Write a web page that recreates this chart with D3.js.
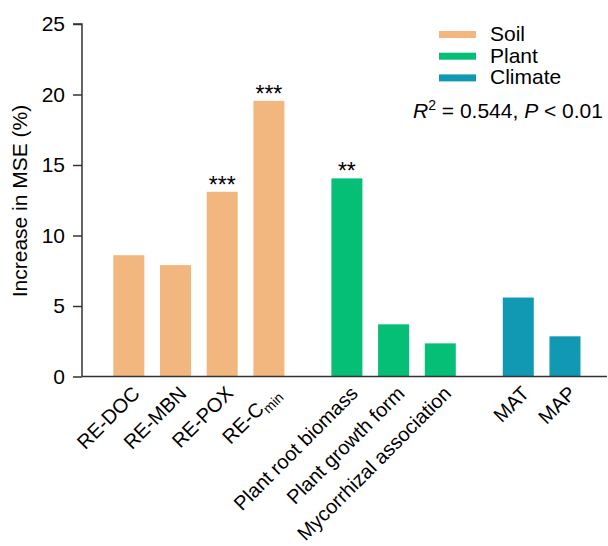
<!DOCTYPE html>
<html>
<head>
<meta charset="utf-8">
<script src="https://cdn.jsdelivr.net/npm/d3@7"></script>
<style>
  body { margin: 0; background: #fff; }
  text { font-family: Arial, "Liberation Sans", sans-serif; fill: #000; }
</style>
</head>
<body>
<script>
var width = 608, height = 546;

// data
var groups = ["Soil", "Plant", "Climate"];
var groupColors = ["#f1b77e", "#06bf76", "#1199b4"];
var labels = ["RE-DOC", "RE-MBN", "RE-POX", "RE-Cmin", "Plant root biomass", "Plant growth form", "Mycorrhizal association", "MAT", "MAP"];
var labelGroup = ["Soil", "Soil", "Soil", "Soil", "Plant", "Plant", "Plant", "Climate", "Climate"];
var values = [8.6, 7.9, 13.1, 19.55, 14.05, 3.7, 2.35, 5.6, 2.85];
var stars = ["", "", "***", "***", "**", "", "", "", ""];
var yTicks = [0, 5, 10, 15, 20, 25];

var fs = 21;

var svg = d3.select("body").append("svg")
    .attr("width", width)
    .attr("height", height);

// slot index with extra spacing between groups
var groupGap = 0.67;
var pos = labels.map(function(d, i) {
    return i + groups.indexOf(labelGroup[i]) * groupGap;
});

var x = d3.scaleLinear()
    .domain([0, 1])
    .range([128.8, 175.5]);
var barW = 31;

var y = d3.scaleLinear()
    .domain([0, 25])
    .range([376.5, 24]);

var color = d3.scaleOrdinal().domain(groups).range(groupColors);

// bars
svg.selectAll(".bar")
    .data(values)
    .enter().append("rect")
    .attr("class", "bar")
    .attr("x", function(d, i) { return x(pos[i]) - barW / 2; })
    .attr("y", function(d) { return y(d); })
    .attr("width", barW)
    .attr("height", function(d) { return y(0) - y(d); })
    .attr("fill", function(d, i) { return color(labelGroup[i]); });

// significance stars
svg.selectAll(".star")
    .data(values)
    .enter().append("text")
    .attr("x", function(d, i) { return x(pos[i]); })
    .attr("y", function(d) { return y(d) + 1; })
    .attr("text-anchor", "middle")
    .style("font-size", "23px")
    .text(function(d, i) { return stars[i]; });

// y axis
var axisY = d3.axisLeft(y).tickValues(yTicks).tickSize(9).tickPadding(8);
var gy = svg.append("g")
    .attr("transform", "translate(82,0)")
    .call(axisY);
gy.select(".domain").attr("stroke", "#333").attr("stroke-width", 1.5).attr("d", "M-9,24H0V376.5");
gy.selectAll(".tick line").attr("stroke", "#333").attr("stroke-width", 1.5);
gy.selectAll(".tick text").style("font-size", fs + "px").attr("fill", "#000");

// x axis line
svg.append("line")
    .attr("x1", 82).attr("x2", 607)
    .attr("y1", y(0)).attr("y2", y(0))
    .attr("stroke", "#333").attr("stroke-width", 1.5);

svg.append("text")
    .attr("transform", "translate(27,201) rotate(-90)")
    .attr("text-anchor", "middle")
    .style("font-size", fs + "px")
    .text("Increase in MSE (%)");

// x labels, top-right corner of the text pinned under each bar
svg.selectAll(".xlab")
    .data(labels)
    .enter().append("text")
    .attr("class", "xlab")
    .attr("transform", function(d, i) {
        return "translate(" + (x(pos[i]) + 2) + "," + (y(0) + 8) + ") rotate(-45)";
    })
    .attr("text-anchor", "end")
    .attr("dy", "0.72em")
    .style("font-size", "20px")
    .each(function(d) {
        var t = d3.select(this);
        if (d === "RE-Cmin") {
            t.append("tspan").text("RE-C");
            t.append("tspan").attr("dy", 5).style("font-size", "14px").text("min");
        } else {
            t.text(d);
        }
    });

// legend
var legend = svg.append("g");
groups.forEach(function(g, i) {
    legend.append("rect")
        .attr("x", 439).attr("y", 31 + i * 21.7)
        .attr("width", 37).attr("height", 7)
        .attr("fill", color(g));
    legend.append("text")
        .attr("x", 490).attr("y", 40.7 + i * 21.8)
        .style("font-size", fs + "px")
        .text(g);
});

var stat = svg.append("text")
    .attr("x", 413).attr("y", 118.3)
    .style("font-size", fs + "px");
stat.append("tspan").style("font-style", "italic").text("R");
stat.append("tspan").attr("dy", -8).style("font-size", "14px").text("2");
stat.append("tspan").attr("dy", 8).text(" = 0.544, ");
stat.append("tspan").style("font-style", "italic").text("P");
stat.append("tspan").text(" < 0.01");
</script>
</body>
</html>
